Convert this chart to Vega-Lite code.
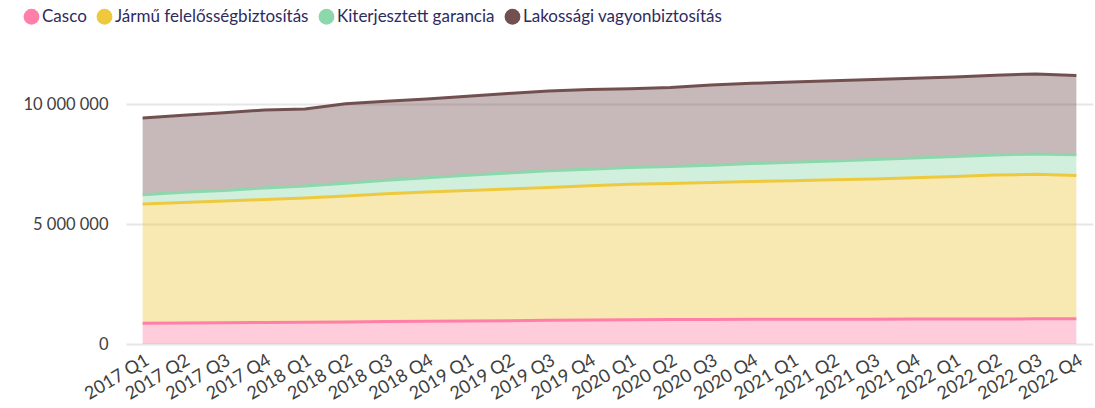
{
  "$schema": "https://vega.github.io/schema/vega-lite/v6.json",
  "width": 967,
  "height": 288,
  "autosize": {"type": "none"},
  "padding": {"left": 126, "top": 56, "right": 2, "bottom": 64},
  "background": "white",
  "config": {
    "font": "Lato",
    "view": {"stroke": null}
  },
  "data": {
    "values": [
      {"q":"2017 Q1","s":"Casco","v":860000},{"q":"2017 Q1","s":"Jármű felelősségbiztosítás","v":4970000},{"q":"2017 Q1","s":"Kiterjesztett garancia","v":390000},{"q":"2017 Q1","s":"Lakossági vagyonbiztosítás","v":3200000},
      {"q":"2017 Q2","s":"Casco","v":870000},{"q":"2017 Q2","s":"Jármű felelősségbiztosítás","v":5030000},{"q":"2017 Q2","s":"Kiterjesztett garancia","v":420000},{"q":"2017 Q2","s":"Lakossági vagyonbiztosítás","v":3210000},
      {"q":"2017 Q3","s":"Casco","v":890000},{"q":"2017 Q3","s":"Jármű felelősségbiztosítás","v":5070000},{"q":"2017 Q3","s":"Kiterjesztett garancia","v":440000},{"q":"2017 Q3","s":"Lakossági vagyonbiztosítás","v":3240000},
      {"q":"2017 Q4","s":"Casco","v":900000},{"q":"2017 Q4","s":"Jármű felelősségbiztosítás","v":5120000},{"q":"2017 Q4","s":"Kiterjesztett garancia","v":480000},{"q":"2017 Q4","s":"Lakossági vagyonbiztosítás","v":3250000},
      {"q":"2018 Q1","s":"Casco","v":910000},{"q":"2018 Q1","s":"Jármű felelősségbiztosítás","v":5170000},{"q":"2018 Q1","s":"Kiterjesztett garancia","v":500000},{"q":"2018 Q1","s":"Lakossági vagyonbiztosítás","v":3210000},
      {"q":"2018 Q2","s":"Casco","v":920000},{"q":"2018 Q2","s":"Jármű felelősségbiztosítás","v":5250000},{"q":"2018 Q2","s":"Kiterjesztett garancia","v":530000},{"q":"2018 Q2","s":"Lakossági vagyonbiztosítás","v":3310000},
      {"q":"2018 Q3","s":"Casco","v":940000},{"q":"2018 Q3","s":"Jármű felelősségbiztosítás","v":5320000},{"q":"2018 Q3","s":"Kiterjesztett garancia","v":560000},{"q":"2018 Q3","s":"Lakossági vagyonbiztosítás","v":3290000},
      {"q":"2018 Q4","s":"Casco","v":950000},{"q":"2018 Q4","s":"Jármű felelősségbiztosítás","v":5380000},{"q":"2018 Q4","s":"Kiterjesztett garancia","v":600000},{"q":"2018 Q4","s":"Lakossági vagyonbiztosítás","v":3280000},
      {"q":"2019 Q1","s":"Casco","v":960000},{"q":"2019 Q1","s":"Jármű felelősségbiztosítás","v":5440000},{"q":"2019 Q1","s":"Kiterjesztett garancia","v":630000},{"q":"2019 Q1","s":"Lakossági vagyonbiztosítás","v":3290000},
      {"q":"2019 Q2","s":"Casco","v":970000},{"q":"2019 Q2","s":"Jármű felelősségbiztosítás","v":5490000},{"q":"2019 Q2","s":"Kiterjesztett garancia","v":660000},{"q":"2019 Q2","s":"Lakossági vagyonbiztosítás","v":3320000},
      {"q":"2019 Q3","s":"Casco","v":990000},{"q":"2019 Q3","s":"Jármű felelősségbiztosítás","v":5530000},{"q":"2019 Q3","s":"Kiterjesztett garancia","v":700000},{"q":"2019 Q3","s":"Lakossági vagyonbiztosítás","v":3320000},
      {"q":"2019 Q4","s":"Casco","v":1000000},{"q":"2019 Q4","s":"Jármű felelősségbiztosítás","v":5590000},{"q":"2019 Q4","s":"Kiterjesztett garancia","v":690000},{"q":"2019 Q4","s":"Lakossági vagyonbiztosítás","v":3320000},
      {"q":"2020 Q1","s":"Casco","v":1010000},{"q":"2020 Q1","s":"Jármű felelősségbiztosítás","v":5650000},{"q":"2020 Q1","s":"Kiterjesztett garancia","v":690000},{"q":"2020 Q1","s":"Lakossági vagyonbiztosítás","v":3290000},
      {"q":"2020 Q2","s":"Casco","v":1020000},{"q":"2020 Q2","s":"Jármű felelősségbiztosítás","v":5670000},{"q":"2020 Q2","s":"Kiterjesztett garancia","v":710000},{"q":"2020 Q2","s":"Lakossági vagyonbiztosítás","v":3290000},
      {"q":"2020 Q3","s":"Casco","v":1020000},{"q":"2020 Q3","s":"Jármű felelősségbiztosítás","v":5710000},{"q":"2020 Q3","s":"Kiterjesztett garancia","v":720000},{"q":"2020 Q3","s":"Lakossági vagyonbiztosítás","v":3340000},
      {"q":"2020 Q4","s":"Casco","v":1030000},{"q":"2020 Q4","s":"Jármű felelősségbiztosítás","v":5740000},{"q":"2020 Q4","s":"Kiterjesztett garancia","v":750000},{"q":"2020 Q4","s":"Lakossági vagyonbiztosítás","v":3340000},
      {"q":"2021 Q1","s":"Casco","v":1030000},{"q":"2021 Q1","s":"Jármű felelősségbiztosítás","v":5770000},{"q":"2021 Q1","s":"Kiterjesztett garancia","v":770000},{"q":"2021 Q1","s":"Lakossági vagyonbiztosítás","v":3350000},
      {"q":"2021 Q2","s":"Casco","v":1030000},{"q":"2021 Q2","s":"Jármű felelősségbiztosítás","v":5810000},{"q":"2021 Q2","s":"Kiterjesztett garancia","v":790000},{"q":"2021 Q2","s":"Lakossági vagyonbiztosítás","v":3340000},
      {"q":"2021 Q3","s":"Casco","v":1030000},{"q":"2021 Q3","s":"Jármű felelősségbiztosítás","v":5850000},{"q":"2021 Q3","s":"Kiterjesztett garancia","v":810000},{"q":"2021 Q3","s":"Lakossági vagyonbiztosítás","v":3330000},
      {"q":"2021 Q4","s":"Casco","v":1040000},{"q":"2021 Q4","s":"Jármű felelősségbiztosítás","v":5890000},{"q":"2021 Q4","s":"Kiterjesztett garancia","v":820000},{"q":"2021 Q4","s":"Lakossági vagyonbiztosítás","v":3320000},
      {"q":"2022 Q1","s":"Casco","v":1040000},{"q":"2022 Q1","s":"Jármű felelősségbiztosítás","v":5940000},{"q":"2022 Q1","s":"Kiterjesztett garancia","v":830000},{"q":"2022 Q1","s":"Lakossági vagyonbiztosítás","v":3320000},
      {"q":"2022 Q2","s":"Casco","v":1040000},{"q":"2022 Q2","s":"Jármű felelősségbiztosítás","v":6000000},{"q":"2022 Q2","s":"Kiterjesztett garancia","v":840000},{"q":"2022 Q2","s":"Lakossági vagyonbiztosítás","v":3320000},
      {"q":"2022 Q3","s":"Casco","v":1050000},{"q":"2022 Q3","s":"Jármű felelősségbiztosítás","v":6020000},{"q":"2022 Q3","s":"Kiterjesztett garancia","v":850000},{"q":"2022 Q3","s":"Lakossági vagyonbiztosítás","v":3330000},
      {"q":"2022 Q4","s":"Casco","v":1050000},{"q":"2022 Q4","s":"Jármű felelősségbiztosítás","v":5970000},{"q":"2022 Q4","s":"Kiterjesztett garancia","v":870000},{"q":"2022 Q4","s":"Lakossági vagyonbiztosítás","v":3300000}
    ]
  },
  "mark": {"type": "area", "fillOpacity": 0.4, "line": {"strokeWidth": 3}},
  "encoding": {
    "x": {
      "field": "q", "type": "ordinal",
      "scale": {"type": "point", "padding": 0.41},
      "axis": {
        "title": null, "domain": false, "ticks": false, "grid": false,
        "labelAngle": -31, "labelFontSize": 18, "labelColor": "#404040",
        "labelPadding": 7
      }
    },
    "y": {
      "field": "v", "type": "quantitative", "stack": "zero",
      "scale": {"domain": [0, 12000000], "nice": false},
      "axis": {
        "title": null, "domain": false, "ticks": false,
        "values": [0, 5000000, 10000000],
        "labelExpr": "replace(format(datum.value, ','), regexp(',', 'g'), ' ')",
        "labelFontSize": 16.5, "labelColor": "#404040", "labelPadding": 18,
        "gridColor": "#e6e6e6", "gridWidth": 2
      }
    },
    "color": {
      "field": "s", "type": "nominal",
      "scale": {
        "domain": ["Casco", "Jármű felelősségbiztosítás", "Kiterjesztett garancia", "Lakossági vagyonbiztosítás"],
        "range": ["#ff7fa8", "#eec93e", "#8cd7ab", "#735050"]
      },
      "legend": {
        "title": null, "orient": "none", "direction": "horizontal",
        "legendX": -103, "legendY": -48,
        "symbolType": "circle", "symbolSize": 250, "symbolOpacity": 1,
        "symbolStrokeWidth": 0, "symbolFillColor": null,
        "labelFontSize": 17, "labelColor": "#2e2b5f", "labelOffset": 2,
        "labelLimit": 0, "columnPadding": 9
      }
    },
    "order": {"field": "s", "sort": "ascending"}
  }
}
